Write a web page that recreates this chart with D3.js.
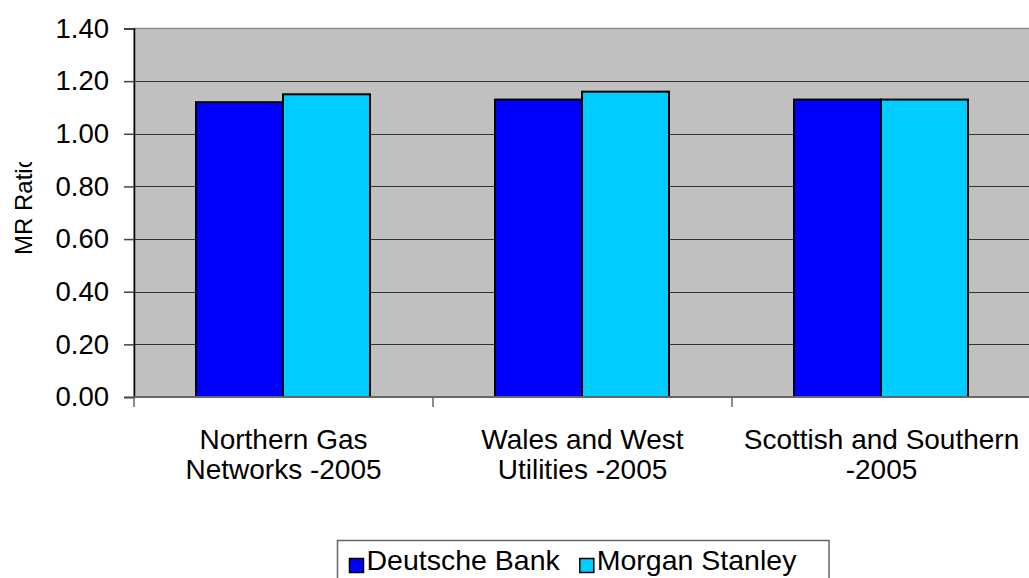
<!doctype html>
<html lang="en">
<head>
<meta charset="UTF-8" />
<title>MR Ratio</title>
<script src="https://d3js.org/d3.v7.min.js"></script>
<style>
  body { margin: 0; background: #fff; }
  svg { display: block; font-family: "Liberation Sans", Arial, sans-serif; }
</style>
</head>
<body>
<svg id="chart" width="1029" height="578"></svg>
<script>
  const categories = [
    ["Northern Gas", "Networks -2005"],
    ["Wales and West", "Utilities -2005"],
    ["Scottish and Southern", "-2005"]
  ];
  const seriesNames = ["Deutsche Bank", "Morgan Stanley"];
  const deutscheBank = [1.12, 1.13, 1.13];
  const morganStanley = [1.15, 1.16, 1.13];
  const yTicks = [0, 0.2, 0.4, 0.6, 0.8, 1.0, 1.2, 1.4];

  const colors = ["#0000FF", "#00CCFF"];
  const plot = { left: 134, top: 28.5, right: 1031, bottom: 397 };

  const svg = d3.select("#chart");

  const x0 = d3.scaleBand()
    .domain(d3.range(categories.length))
    .range([plot.left, plot.right]);

  // bars sit in the middle of each category band
  const x1 = d3.scaleBand()
    .domain(seriesNames)
    .range([62, 236]);

  const y = d3.scaleLinear()
    .domain([0, 1.4])
    .range([plot.bottom, plot.top]);

  // plot area background
  svg.append("rect")
    .attr("x", plot.left)
    .attr("y", plot.top)
    .attr("width", plot.right - plot.left)
    .attr("height", plot.bottom - plot.top)
    .attr("fill", "#C0C0C0")
    .attr("stroke", "#8c8c8c")
    .attr("stroke-width", 1.5);

  // gridlines
  svg.append("g")
    .selectAll("line")
    .data(yTicks.slice(1, -1))
    .join("line")
    .attr("x1", plot.left)
    .attr("x2", plot.right)
    .attr("y1", d => Math.round(y(d)) + 0.5)
    .attr("y2", d => Math.round(y(d)) + 0.5)
    .attr("stroke", "#333")
    .attr("stroke-width", 1);

  // bars
  const rows = categories.map((c, i) => [deutscheBank[i], morganStanley[i]]);
  const groups = svg.append("g")
    .selectAll("g")
    .data(rows)
    .join("g")
    .attr("transform", (d, i) => `translate(${x0(i)},0)`);

  groups.selectAll("rect")
    .data(d => d.map((v, j) => ({ key: seriesNames[j], value: v, j })))
    .join("rect")
    .attr("x", d => x1(d.key))
    .attr("width", x1.bandwidth())
    .attr("y", d => y(d.value))
    .attr("height", d => y(0) - y(d.value))
    .attr("fill", d => colors[d.j])
    .attr("stroke", "#000")
    .attr("stroke-width", 2);

  // y axis
  const yAxis = d3.axisLeft(y)
    .tickValues(yTicks)
    .tickFormat(d3.format(".2f"))
    .tickSize(10)
    .tickPadding(15);

  const gy = svg.append("g")
    .attr("transform", `translate(${plot.left},0)`)
    .call(yAxis);
  gy.select(".domain").attr("stroke", "#000").attr("stroke-width", 1.5);
  gy.selectAll(".tick line").attr("stroke", "#444").attr("stroke-width", 1.5);
  gy.selectAll(".tick text")
    .attr("font-size", "27.5px")
    .attr("font-family", "Liberation Sans, Arial, sans-serif")
    .attr("fill", "#000");

  // x axis (ticks on band boundaries)
  const gx = svg.append("g");
  gx.append("line")
    .attr("x1", plot.left)
    .attr("x2", plot.right)
    .attr("y1", plot.bottom)
    .attr("y2", plot.bottom)
    .attr("stroke", "#666")
    .attr("stroke-width", 2);
  gx.selectAll("line.tk")
    .data(d3.range(categories.length + 1))
    .join("line")
    .attr("class", "tk")
    .attr("x1", i => x0(0) + i * x0.step())
    .attr("x2", i => x0(0) + i * x0.step())
    .attr("y1", plot.bottom)
    .attr("y2", plot.bottom + 10)
    .attr("stroke", "#666")
    .attr("stroke-width", 1.5);

  const labels = svg.append("g")
    .selectAll("text")
    .data(categories)
    .join("text")
    .attr("text-anchor", "middle")
    .attr("font-size", "28px")
    .attr("fill", "#000")
    .attr("transform", (d, i) => `translate(${x0(i) + x0.bandwidth() / 2},449)`);
  labels.selectAll("tspan")
    .data(d => d)
    .join("tspan")
    .attr("x", 0)
    .attr("y", (d, k) => k * 30)
    .text(d => d);

  // y axis title, clipped like the original
  svg.append("clipPath")
    .attr("id", "titleClip")
    .append("rect")
    .attr("x", 0).attr("y", 162).attr("width", 60).attr("height", 200);
  svg.append("g")
    .attr("clip-path", "url(#titleClip)")
    .append("text")
    .attr("transform", "translate(31.5,255) rotate(-90)")
    .attr("font-size", "24px")
    .attr("fill", "#000")
    .text("MR Ratio");

  // legend
  const legend = svg.append("g");
  legend.append("rect")
    .attr("x", 337.5)
    .attr("y", 540.5)
    .attr("width", 491.5)
    .attr("height", 42)
    .attr("fill", "#fff")
    .attr("stroke", "#666")
    .attr("stroke-width", 1.5);

  let lx = 349.5;
  seriesNames.forEach((name, i) => {
    legend.append("rect")
      .attr("x", lx)
      .attr("y", 558.5)
      .attr("width", 14)
      .attr("height", 14)
      .attr("fill", colors[i])
      .attr("stroke", "#000")
      .attr("stroke-width", 1.5);
    const t = legend.append("text")
      .attr("x", lx + 17)
      .attr("y", 570)
      .attr("font-size", "28.5px")
      .attr("fill", "#000")
      .text(name);
    lx += 17 + t.node().getComputedTextLength() + 20;
  });
</script>
</body>
</html>
